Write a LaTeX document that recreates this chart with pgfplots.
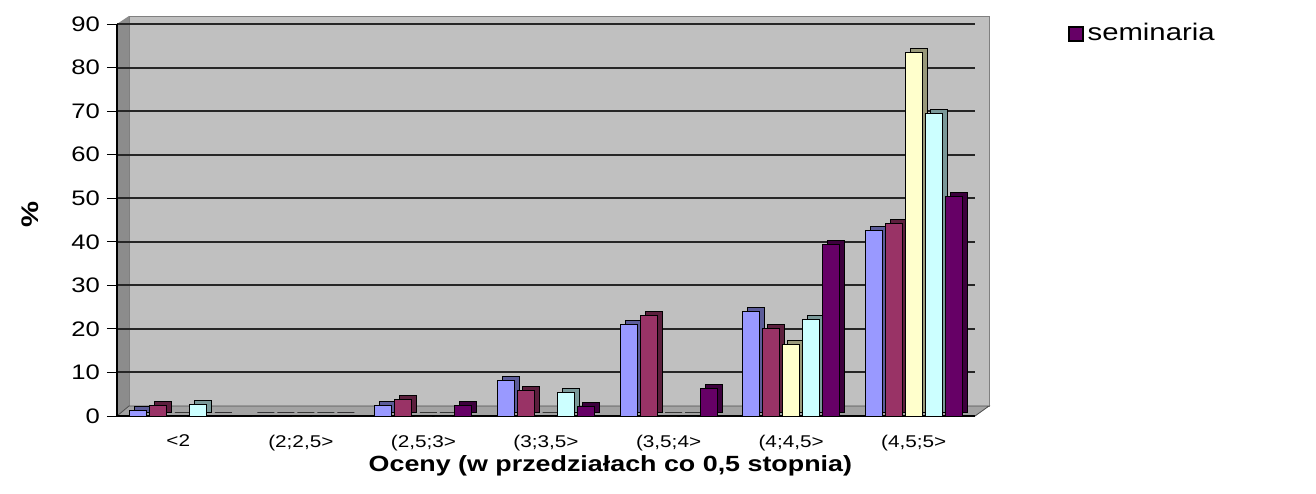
\documentclass[border=0pt]{standalone}
\usepackage{fontspec}
\setmainfont{Liberation Sans}[FakeStretch=1.22]
\usepackage{pgfplots}
\pgfplotsset{compat=1.18}

\definecolor{sBlue}{HTML}{9999FF}
\definecolor{sRed}{HTML}{993366}
\definecolor{sYellow}{HTML}{FFFFCC}
\definecolor{sCyan}{HTML}{CCFFFF}
\definecolor{sPurple}{HTML}{660066}
\definecolor{wallGray}{HTML}{C0C0C0}
\definecolor{sideGray}{HTML}{8C8C8C}

\pgfplotsset{
  squarelegend/.style={legend image code/.code={\draw[##1, draw=black, line width=0.8pt] (0pt,-3.5pt) rectangle (7pt,3.5pt);}},
  front/.style={fill=#1, draw=black, line width=0.5pt},
  depth/.style={forget plot, fill=#1!60!black, draw=black, line width=0.5pt, xshift=2.5pt, yshift=2pt},
}

\pgfplotstableread{
x  s1   s2   s3   s4   s5
0  1.2  2.3  0    2.7  0
1  0    0    0    0    0
2  2.5  3.9  0    0    2.3
3  8.2  5.9  0    5.4  2.2
4  20.9 23.0 0    0    6.4
5  24.0 20.0 16.4 22.1 39.3
6  42.7 44.1 83.4 69.5 50.4
}\grades

\begin{document}
\begin{tikzpicture}
\useasboundingbox (-58.5pt,-38.5pt) rectangle (599.5pt,208pt);
% back wall, left wall and floor (axis box is 429pt x 196pt at the origin)
\fill[wallGray, draw=gray] (6pt,5pt) rectangle (436pt,200pt);
\fill[sideGray] (0pt,0pt) -- (0pt,196pt) -- (6pt,200pt) -- (6pt,5pt) -- cycle;
\fill[sideGray!80, draw=black!70] (0pt,0pt) -- (429pt,0pt) -- (436pt,5pt) -- (6pt,5pt) -- cycle;
\begin{axis}[
  at={(0,0)}, anchor=south west,
  scale only axis, width=429pt, height=196pt,
  xmin=-0.5, xmax=6.5, ymin=0, ymax=90,
  ybar, bar width=8.5pt,
  axis lines*=left,
  axis line style={black, line width=0.6pt},
  ymajorgrids,
  grid style={black!85, line width=1pt},
  ytick={0,10,...,90},
  xtick={0,...,6},
  xticklabels={{<2},{(2;2,5>},{(2,5;3>},{(3;3,5>},{(3,5;4>},{(4;4,5>},{(4,5;5>}},
  x tick label style={font=\fontsize{8.5}{10}\selectfont, yshift=-1pt},
  y tick label style={font=\fontsize{10.5}{12}\selectfont},
  /pgf/number format/assume math mode=true,
  tick align=outside,
  major tick length=5pt,
  x tick style={draw=none},
  extra x ticks={-0.5,0.5,1.5,2.5,3.5,4.5,5.5,6.5},
  extra x tick labels={},
  extra x tick style={tick style={draw=black, line width=0.5pt}, grid=none},
  y tick style={black, line width=0.5pt},
  xlabel={\bfseries Oceny (w przedziałach co 0,5 stopnia)},
  xlabel style={at={(axis description cs:0.575,-0.128)}, anchor=center, font=\fontsize{11}{13}\selectfont},
  ylabel={\bfseries\%},
  ylabel style={at={(axis description cs:-0.101,0.513)}, anchor=center, rotate=0, font=\fontsize{12}{13}\selectfont},
  legend style={at={(axis description cs:1.108,0.975)}, anchor=west, draw=none, fill=none,
    font=\fontsize{12}{14}\selectfont, inner sep=0pt},
  squarelegend,
]
\addplot+[depth=sBlue, bar shift=-20pt] table[y=s1] {\grades};
\addplot+[forget plot, front=sBlue, bar shift=-20pt] table[y=s1] {\grades};
\addplot+[depth=sRed, bar shift=-10pt] table[y=s2] {\grades};
\addplot+[forget plot, front=sRed, bar shift=-10pt] table[y=s2] {\grades};
\addplot+[depth=sYellow, bar shift=0pt] table[y=s3] {\grades};
\addplot+[forget plot, front=sYellow, bar shift=0pt] table[y=s3] {\grades};
\addplot+[depth=sCyan, bar shift=10pt] table[y=s4] {\grades};
\addplot+[forget plot, front=sCyan, bar shift=10pt] table[y=s4] {\grades};
\addplot+[depth=sPurple, bar shift=20pt] table[y=s5] {\grades};
\addplot+[front=sPurple, bar shift=20pt] table[y=s5] {\grades};
\addlegendentry{seminaria}
\end{axis}
\end{tikzpicture}
\end{document}
